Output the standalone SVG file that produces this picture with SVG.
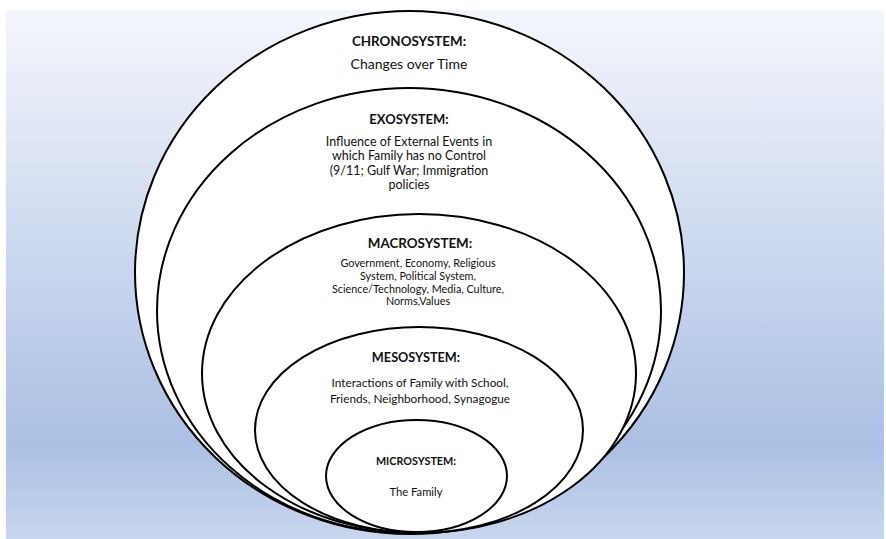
<svg xmlns="http://www.w3.org/2000/svg" width="886" height="539" viewBox="0 0 886 539">
<defs>
<linearGradient id="bg" x1="0" y1="0" x2="0" y2="1">
<stop offset="0" stop-color="#f4f6fc"/>
<stop offset="0.82" stop-color="#abc0e4"/>
<stop offset="1" stop-color="#c8d6ee"/>
</linearGradient>
</defs>
<style>
.ring{fill:#ffffff;stroke:#000000;stroke-width:2}
text{font-family:Lato,"Liberation Sans",sans-serif;fill:#111111;text-anchor:middle}
.h{font-weight:bold}
</style>
<rect x="6" y="10" width="878" height="529" fill="url(#bg)"/>
<g id="chronosystem">
<ellipse class="ring" cx="409.5" cy="272.5" rx="274.5" ry="261.5"/>
<text class="h" x="409" y="46" font-size="13.4">CHRONOSYSTEM:</text>
<text x="409" y="69" font-size="14">Changes over Time</text>
</g>
<g id="exosystem">
<ellipse class="ring" cx="409" cy="310.5" rx="252" ry="222.5"/>
<text class="h" x="409" y="124" font-size="13">EXOSYSTEM:</text>
<text x="409" y="146" font-size="12.5">Influence of External Events in</text>
<text x="409" y="160" font-size="12.5">which Family has no Control</text>
<text x="409" y="175" font-size="12.5">(9/11; Gulf War; Immigration</text>
<text x="409" y="189" font-size="12.5">policies</text>
</g>
<g id="macrosystem">
<ellipse class="ring" cx="419" cy="373.5" rx="217" ry="159.5"/>
<text class="h" x="420" y="248" font-size="13.4">MACROSYSTEM:</text>
<text x="418" y="267" font-size="10.8">Government, Economy, Religious</text>
<text x="418" y="280" font-size="10.8">System, Political System,</text>
<text x="418" y="293" font-size="10.8">Science/Technology, Media, Culture,</text>
<text x="418" y="305" font-size="10.8">Norms,Values</text>
</g>
<g id="mesosystem">
<ellipse class="ring" cx="419" cy="430" rx="164" ry="103"/>
<text class="h" x="416" y="362" font-size="12.7">MESOSYSTEM:</text>
<text x="420" y="387" font-size="11.8">Interactions of Family with School,</text>
<text x="420" y="403" font-size="11.8">Friends, Neighborhood, Synagogue</text>
</g>
<g id="microsystem">
<ellipse class="ring" cx="416.5" cy="476" rx="90.5" ry="56"/>
<text class="h" x="416" y="465" font-size="10.8">MICROSYSTEM:</text>
<text x="416" y="496" font-size="11.2">The Family</text>
</g>
<g id="connectors"/>
</svg>
